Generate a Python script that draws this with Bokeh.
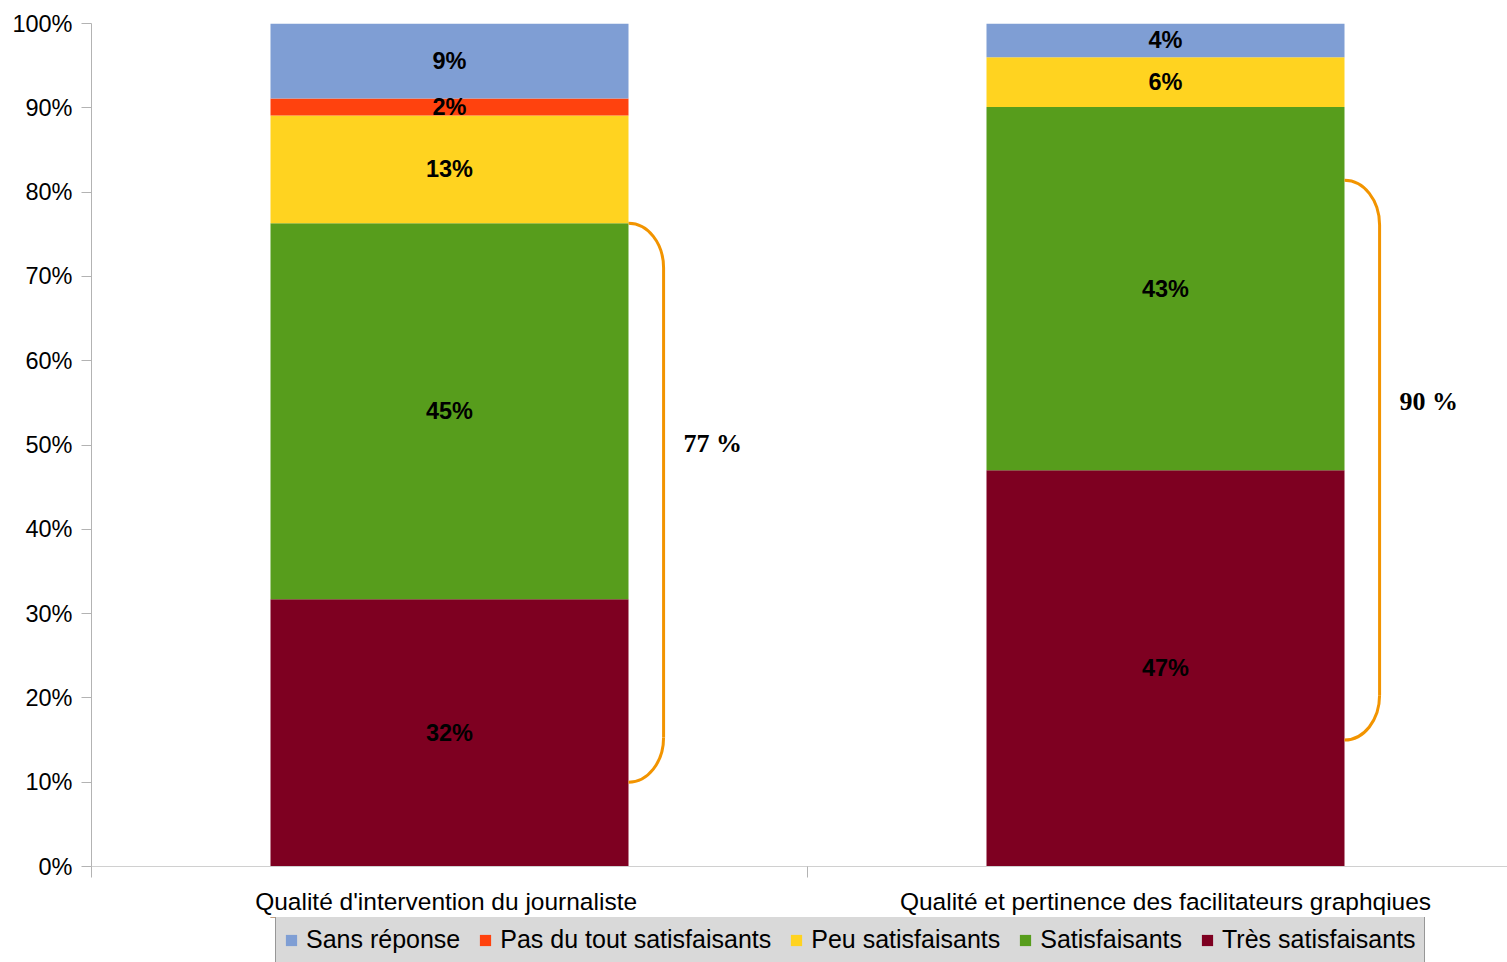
from bokeh.plotting import figure
from bokeh.layouts import column
from bokeh.models import (Range1d, FixedTicker, PrintfTickFormatter, Legend,
                          LegendItem, ColumnDataSource)
from bokeh.core.properties import value
from bokeh.embed import file_html
from bokeh.resources import INLINE

# ---------------- data ----------------
categories = ["Qualité d'intervention du  journaliste",
              "Qualité et pertinence des facilitateurs graphqiues"]
series = ["Très satisfaisants", "Satisfaisants", "Peu satisfaisants",
          "Pas du tout satisfaisants", "Sans réponse"]  # bottom -> top
tres_satisfaisants = [31.7, 47.0]
satisfaisants = [44.6, 43.1]
peu_satisfaisants = [12.8, 5.9]
pas_du_tout = [2.0, 0.0]
sans_reponse = [8.9, 4.0]
colors = ["#7e0021", "#579d1c", "#ffd320", "#ff420e", "#7f9ed4"]

brace_top = [76.3, 81.4]
brace_bottom = [10.0, 15.0]
brace_labels = ["77 %", "90 %"]
brace_label_y = [50.2, 55.2]

y_ticks = [0, 10, 20, 30, 40, 50, 60, 70, 80, 90, 100]

# ---------------- styles ----------------
BAR_W = 0.5
BRACE_DX = 0.049
BRACE_R = 5.3
BRACE_COLOR = "#f29400"
SANS = "Liberation Sans"

xs = [i + 0.5 for i in range(len(categories))]
keys = ["tres", "satis", "peu", "pas", "sans"]
vals = [tres_satisfaisants, satisfaisants, peu_satisfaisants, pas_du_tout, sans_reponse]
data = {"x": xs}
for k, v in zip(keys, vals):
    data[k] = v
source = ColumnDataSource(data)

p = figure(frame_width=1416, frame_height=843,
           x_range=Range1d(0, 1416 / 716), y_range=Range1d(0, 100),
           output_backend="svg", toolbar_location=None,
           min_border_left=91, min_border_top=23, min_border_right=0,
           min_border_bottom=0)
p.outline_line_color = None
p.xgrid.grid_line_color = None
p.ygrid.grid_line_color = None

renderers = p.vbar_stack(keys, x="x", width=BAR_W, color=colors, source=source,
                         line_color=None)

# segment labels
lx, ly, lt = [], [], []
for i, x in enumerate(xs):
    base = 0.0
    for v in vals:
        val = v[i]
        if val > 0:
            lx.append(x)
            ly.append(base + val / 2)
            lt.append(f"{round(val)}%")
        base += val
p.text(x=lx, y=ly, text=lt, text_align="center", text_baseline="middle",
       text_font=value(SANS), text_font_style="bold", text_font_size="23.5px",
       text_color="black")

# braces
for i, x in enumerate(xs):
    x0 = x + BAR_W / 2
    x1 = x0 + BRACE_DX
    top, bot = brace_top[i], brace_bottom[i]
    k = 0.552
    p.bezier(x0=[x0, x1], y0=[top, bot + BRACE_R],
             x1=[x1, x0], y1=[top - BRACE_R, bot],
             cx0=[x0 + k * BRACE_DX, x1], cy0=[top, bot + BRACE_R - k * BRACE_R],
             cx1=[x1, x0 + k * BRACE_DX], cy1=[top - BRACE_R + k * BRACE_R, bot],
             line_color=BRACE_COLOR, line_width=3)
    p.segment(x0=[x1], y0=[top - BRACE_R], x1=[x1], y1=[bot + BRACE_R],
              line_color=BRACE_COLOR, line_width=3)
p.text(x=[x + BAR_W / 2 + BRACE_DX for x in xs], y=brace_label_y, text=brace_labels,
       x_offset=20, text_align="left", text_baseline="middle",
       text_font=value("Liberation Serif"), text_font_style="bold",
       text_font_size="26px", text_color="black")

# axes
ya = p.yaxis[0]
ya.ticker = FixedTicker(ticks=y_ticks, minor_ticks=[])
ya.formatter = PrintfTickFormatter(format="%d%%")
ya.axis_line_color = "#b3b3b3"
ya.major_tick_line_color = "#b3b3b3"
ya.major_tick_out = 10
ya.major_tick_in = 0
ya.minor_tick_line_color = None
ya.major_label_standoff = 9
ya.major_label_text_font = SANS
ya.major_label_text_font_size = "23.5px"
ya.major_label_text_color = "black"

xa = p.xaxis[0]
xa.ticker = FixedTicker(ticks=xs, minor_ticks=[0.0, 1.0, 2.0])
xa.major_label_overrides = {x: c for x, c in zip(xs, categories)}
xa.axis_line_color = "#d0d0d0"
xa.major_tick_line_color = None
xa.major_tick_out = 0
xa.major_tick_in = 0
xa.minor_tick_line_color = "#b3b3b3"
xa.minor_tick_out = 11
xa.minor_tick_in = 0
xa.major_label_standoff = 10
xa.major_label_text_font = SANS
xa.major_label_text_font_size = "24.5px"
xa.major_label_text_color = "black"

# ---------------- legend strip below the chart ----------------
# same stacked series drawn out of view in the strip, only to feed the legend swatches
leg = figure(frame_width=1416, frame_height=45,
             x_range=Range1d(0, 1416 / 716), y_range=Range1d(-300, -200),
             x_axis_type=None, y_axis_type=None,
             output_backend="svg", toolbar_location=None,
             min_border_left=91, min_border_top=0, min_border_right=0,
             min_border_bottom=0)
leg.outline_line_color = None
leg.border_fill_color = "white"
swatches = leg.vbar_stack(keys, x="x", width=BAR_W, color=colors, source=source,
                          line_color=None)
items = [LegendItem(label=series[j], renderers=[swatches[j]])
         for j in reversed(range(len(series)))]
legend = Legend(items=items, orientation="horizontal", location=(184, -1),
                glyph_width=14, glyph_height=14, label_standoff=8, spacing=18,
                padding=8, margin=0,
                background_fill_color="#d9d9d9", background_fill_alpha=1,
                border_line_color="#555555", border_line_width=1,
                label_text_font=SANS, label_text_font_size="25px",
                label_text_color="black")
leg.add_layout(legend, "center")

layout = column(p, leg, spacing=0)
open("out.html", "w").write(file_html(layout, INLINE))
